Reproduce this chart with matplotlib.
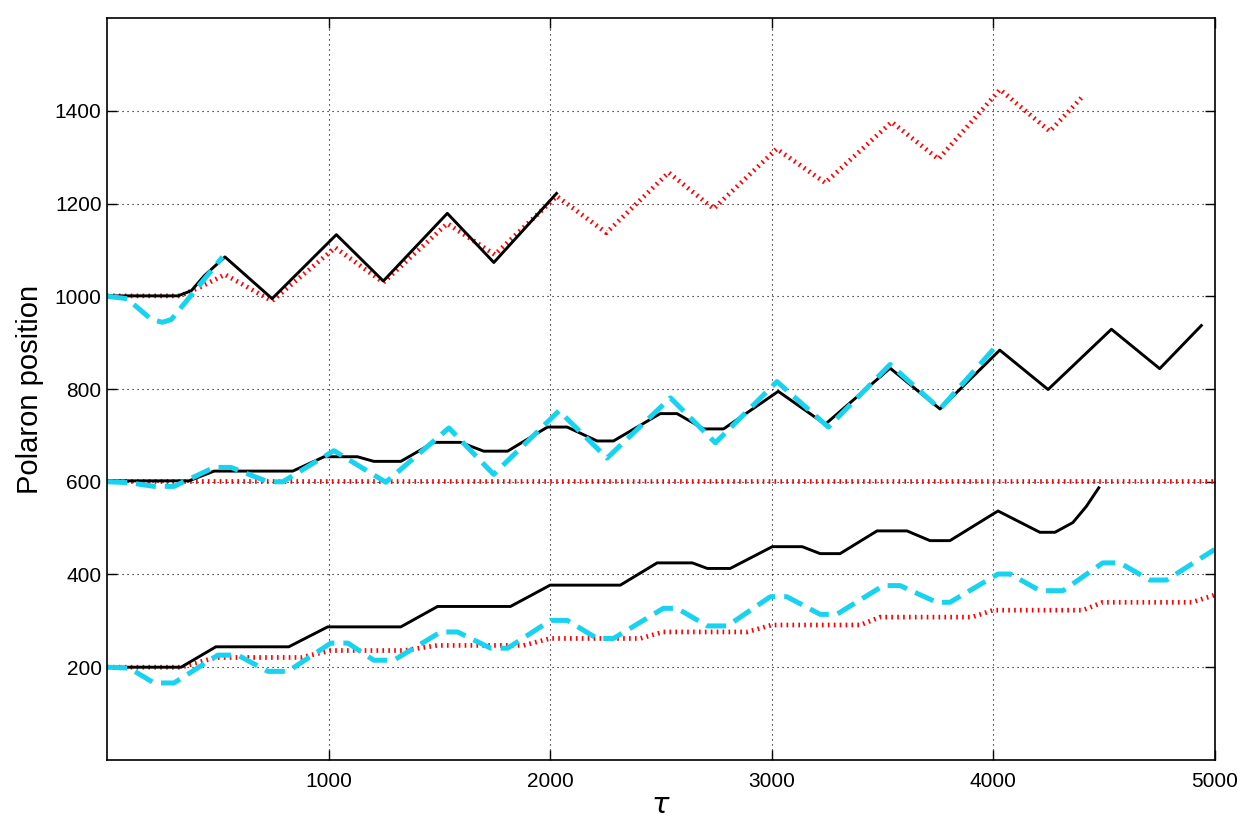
import matplotlib
matplotlib.use('Agg')
import matplotlib.pyplot as plt

# ---- data ----
# top group (start at 1000)
top_black_t = [0, 320, 380, 440, 532, 745, 1035, 1247, 1536, 1746, 2029]
top_black_y = [1001, 1001, 1012, 1045, 1085, 995, 1133, 1033, 1179, 1073, 1222]

top_red_t = [0, 330, 420, 532, 744, 1030, 1247, 1536, 1750, 2030, 2254, 2535,
             2738, 3023, 3242, 3542, 3753, 4031, 4256, 4406]
top_red_y = [1001, 1001, 1020, 1047, 990, 1105, 1030, 1157, 1090, 1216, 1137, 1267,
             1189, 1318, 1245, 1376, 1296, 1446, 1356, 1432]

top_cyan_t = [0, 90, 200, 250, 290, 521]
top_cyan_y = [1000, 995, 950, 944, 950, 1085]

# middle group (start at 600)
mid_red_t = [0, 5000]
mid_red_y = [601, 601]

mid_black_t = [0, 370, 483, 838, 980, 1130, 1204, 1326, 1475, 1596, 1700, 1808,
               1988, 2077, 2212, 2286, 2497, 2573, 2693, 2783, 3030, 3242, 3535,
               3760, 4030, 4248, 4534, 4752, 4940]
mid_black_y = [602, 602, 623, 623, 654, 654, 644, 644, 685, 685, 666, 666,
               718, 718, 688, 688, 747, 747, 714, 714, 795, 724, 845,
               757, 884, 799, 929, 844, 937]

mid_cyan_t = [0, 100, 212, 302, 483, 559, 726, 793, 1024, 1258, 1543, 1745,
              2040, 2257, 2543, 2746, 3024, 3256, 3535, 3760, 4013]
mid_cyan_y = [600, 598, 590, 590, 631, 631, 600, 600, 667, 599, 716, 616,
              753, 651, 781, 684, 816, 718, 853, 757, 892]

# bottom group (start at 200)
bot_black_t = [0, 334, 491, 820, 996, 1326, 1492, 1821, 2000, 2317, 2483, 2642,
               2710, 2813, 3003, 3138, 3219, 3309, 3476, 3611, 3715, 3805, 4022,
               4211, 4279, 4360, 4421, 4477]
bot_black_y = [200, 200, 244, 244, 287, 287, 331, 331, 377, 377, 425, 425,
               413, 413, 460, 460, 445, 445, 494, 494, 473, 473, 537,
               491, 491, 512, 547, 587]

bot_cyan_t = [0, 100, 212, 302, 500, 590, 726, 816, 1010, 1087, 1204, 1294,
              1506, 1582, 1731, 1808, 2002, 2077, 2212, 2286, 2511, 2573, 2710,
              2800, 2994, 3069, 3219, 3294, 3504, 3580, 3745, 3805, 4022, 4077,
              4211, 4315, 4495, 4572, 4707, 4783, 5000]
bot_cyan_y = [200, 198, 166, 166, 226, 226, 191, 191, 252, 252, 215, 215,
              276, 276, 241, 241, 301, 301, 262, 262, 327, 327, 289,
              289, 352, 352, 314, 314, 376, 376, 340, 340, 401, 401,
              365, 365, 425, 425, 388, 388, 454]

bot_red_t = [0, 334, 491, 875, 1010, 1340, 1490, 1880, 2000, 2407, 2511, 2890,
             3000, 3400, 3490, 3904, 4000, 4405, 4495, 4896, 4990, 5000]
bot_red_y = [200, 200, 221, 221, 236, 236, 247, 247, 262, 262, 276, 276,
             291, 291, 308, 308, 323, 323, 340, 340, 354, 356]

x_ticks = [1000, 2000, 3000, 4000, 5000]
y_ticks = [200, 400, 600, 800, 1000, 1200, 1400]

# ---- plot ----
plt.rcParams['font.family'] = ['Liberation Sans', 'DejaVu Sans']

fig = plt.figure(figsize=(12.6, 8.26), dpi=100)
ax = fig.add_axes([0.085, 0.08, 0.879, 0.898])

cyan = '#17d3f0'
red_style = dict(color='red', lw=3.4, linestyle=(0, (0.35, 0.9)))
cyan_style = dict(color=cyan, lw=3.6, linestyle=(0, (4.0, 1.8)))
black_style = dict(color='black', lw=2.1)

ax.plot(mid_red_t, mid_red_y, **red_style)
ax.plot(bot_red_t, bot_red_y, **red_style)
ax.plot(top_red_t, top_red_y, **red_style)

ax.plot(bot_black_t, bot_black_y, **black_style)
ax.plot(mid_black_t, mid_black_y, **black_style)
ax.plot(top_black_t, top_black_y, **black_style)

ax.plot(bot_cyan_t, bot_cyan_y, **cyan_style)
ax.plot(mid_cyan_t, mid_cyan_y, **cyan_style)
ax.plot(top_cyan_t, top_cyan_y, **cyan_style)

ax.set_xlim(0, 5000)
ax.set_ylim(0, 1600)
ax.set_xticks(x_ticks)
ax.set_yticks(y_ticks)
ax.grid(True, color='black', linestyle=(0, (1, 3.5)), lw=0.8)
ax.tick_params(direction='in', length=7, width=1, top=True, right=True,
               labelsize=15)
ax.tick_params(axis='x', pad=9)
ax.tick_params(axis='y', pad=4)
for s in ax.spines.values():
    s.set_linewidth(1.2)

ax.set_xlabel(r'$\tau$', fontsize=21, labelpad=0)
ax.set_ylabel('Polaron position', fontsize=21, labelpad=8)

fig.savefig('out.png', dpi=100)
